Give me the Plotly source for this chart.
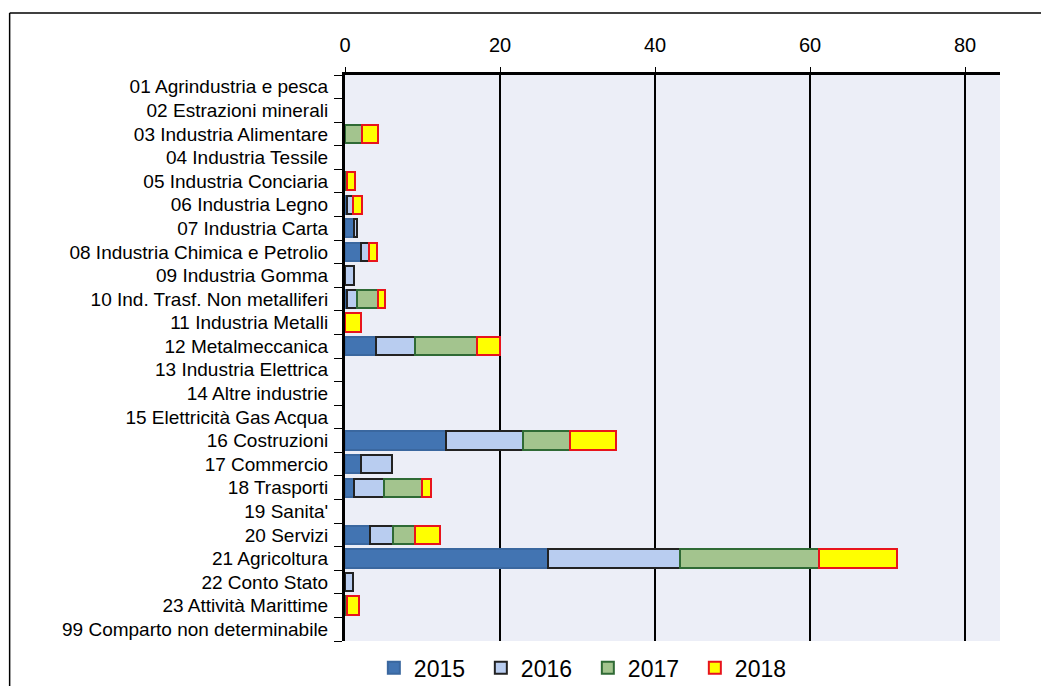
import plotly.graph_objects as go

categories = [
    "01 Agrindustria e pesca", "02 Estrazioni minerali", "03 Industria Alimentare",
    "04 Industria Tessile", "05 Industria Conciaria", "06 Industria Legno",
    "07 Industria Carta", "08 Industria Chimica e Petrolio", "09 Industria Gomma",
    "10 Ind. Trasf. Non metalliferi", "11 Industria Metalli", "12 Metalmeccanica",
    "13 Industria Elettrica", "14 Altre industrie", "15 Elettricità Gas Acqua",
    "16 Costruzioni", "17 Commercio", "18 Trasporti", "19 Sanita'", "20 Servizi",
    "21 Agricoltura", "22 Conto Stato", "23 Attività Marittime",
    "99 Comparto non determinabile",
]
v2015 = [0, 0, 0, 0, 0, 0.2, 1.1, 2.0, 0, 0.3, 0, 4.0, 0, 0, 0, 13.0, 2.0, 1.2, 0, 3.2, 26.2, 0, 0, 0]
v2016 = [0, 0, 0, 0, 0, 0.8, 0.4, 1.1, 1.2, 1.2, 0, 5.0, 0, 0, 0, 10.0, 4.0, 3.8, 0, 3.0, 17.0, 1.0, 0, 0]
v2017 = [0, 0, 2.2, 0, 0.3, 0, 0, 0, 0, 2.8, 0, 8.0, 0, 0, 0, 6.0, 0, 4.9, 0, 2.8, 18.0, 0, 0.3, 0]
v2018 = [0, 0, 2.0, 0, 1.0, 1.2, 0, 1.0, 0, 0.8, 2.0, 3.0, 0, 0, 0, 6.0, 0, 1.2, 0, 3.2, 10.0, 0, 1.5, 0]
x_ticks = [0, 20, 40, 60, 80]

series = [
    ("2015", v2015, "#4274b2", "#3a679f"),
    ("2016", v2016, "#b9cdf0", "#222222"),
    ("2017", v2017, "#a3c48e", "#2f6a35"),
    ("2018", v2018, "#ffff00", "#e8141c"),
]

fig = go.Figure()
for name, vals, fill, edge in series:
    fig.add_trace(go.Bar(
        name=name, y=categories, x=[v if v else None for v in vals],
        orientation="h", marker=dict(color=fill, line=dict(color=edge, width=2)),
    ))

FONT = "Liberation Sans, Arial, sans-serif"
fig.update_layout(
    barmode="stack", bargap=0.22,
    width=1041, height=678,
    margin=dict(l=337, r=49, t=67, b=45),
    paper_bgcolor="white", plot_bgcolor="#eceef7",
    font=dict(family=FONT, color="black", size=19),
    showlegend=True,
    legend=dict(orientation="h", xref="container", yref="container",
                x=0.557, xanchor="center", y=0.027, yanchor="middle",
                font=dict(size=23), entrywidth=62, entrywidthmode="pixels",
                itemwidth=30, traceorder="normal", bgcolor="rgba(0,0,0,0)"),
    xaxis=dict(side="top", range=[0, 84.5], tickmode="array", tickvals=x_ticks,
               showgrid=True, gridcolor="black", gridwidth=1.5, automargin=False,
               zeroline=False, showline=True, linecolor="black", linewidth=3,
               ticks="outside", ticklen=5, tickcolor="black",
               ticklabelstandoff=7, tickfont=dict(size=20)),
    yaxis=dict(autorange="reversed", type="category", showline=True,
               tickmode="array", tickvals=categories, automargin=False,
               linecolor="black", linewidth=3, ticks="outside", ticklen=8,
               tickcolor="black", tickson="boundaries", showgrid=False,
               ticklabelstandoff=10, tickfont=dict(size=19)),
)

# outer frame of the scanned figure
fig.add_shape(type="line", xref="paper", yref="paper",
              x0=-0.512, x1=-0.512, y0=1.1095, y1=-0.15, line=dict(color="black", width=1.5))
fig.add_shape(type="line", xref="paper", yref="paper",
              x0=-0.512, x1=1.08, y0=1.1095, y1=1.1095, line=dict(color="black", width=1.5))

fig.write_html("out.html")
